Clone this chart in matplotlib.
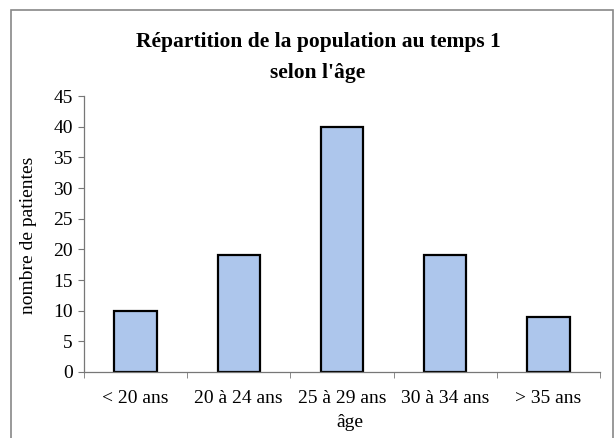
import numpy as np
import matplotlib.pyplot as plt
from matplotlib.patches import Rectangle

categories = ["< 20 ans", "20 à 24 ans", "25 à 29 ans", "30 à 34 ans", "> 35 ans"]
counts = [10, 19, 40, 19, 9]
yticks = [0, 5, 10, 15, 20, 25, 30, 35, 40, 45]

plt.rcParams['font.family'] = ['Liberation Serif', 'DejaVu Serif']

fig = plt.figure(figsize=(6.15, 4.38), dpi=100)
ax = fig.add_axes([0.1366, 0.1507, 0.839, 0.630])

x = np.arange(len(categories))
ax.bar(x, counts, width=0.41, color="#adc6ec", edgecolor="black", linewidth=1.6)

ax.set_xlim(-0.5, len(categories) - 0.5)
ax.set_ylim(0, 45)
ax.set_yticks(yticks)
ax.set_xticks(x)
ax.set_xticklabels(categories, fontsize=14)
ax.tick_params(axis='x', length=0, pad=13)
ax.set_xticks(np.arange(len(categories) + 1) - 0.5, minor=True)
ax.tick_params(axis='x', which='minor', length=4, direction='out', color='#777777')
ax.tick_params(axis='y', length=4, direction='out', color='#777777', labelsize=14, pad=4)

for s in ['top', 'right']:
    ax.spines[s].set_visible(False)
for s in ['left', 'bottom']:
    ax.spines[s].set_color('#777777')
    ax.spines[s].set_linewidth(0.9)

fig.text(0.517, 0.903, "Répartition de la population au temps 1", ha='center', va='center',
         fontsize=15.5, fontweight='bold')
fig.text(0.517, 0.834, "selon l'âge", ha='center', va='center',
         fontsize=15.5, fontweight='bold')
fig.text(0.046, 0.463, "nombre de patientes", rotation=90, ha='center', va='center', fontsize=14)
fig.text(0.569, 0.036, "âge", ha='center', va='center', fontsize=14)

fig.patches.append(Rectangle((0.018, -0.01), 0.978, 0.987, transform=fig.transFigure,
                             fill=False, edgecolor='#888888', linewidth=1.2))

fig.savefig("out.png", dpi=100)
